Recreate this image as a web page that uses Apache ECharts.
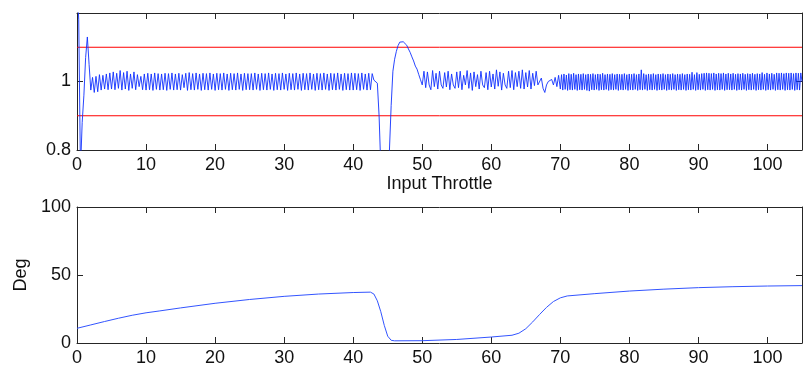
<!DOCTYPE html>
<html>
<head>
<meta charset="utf-8">
<script src="https://cdn.jsdelivr.net/npm/echarts@6/dist/echarts.min.js"></script>
<style>
html,body{margin:0;padding:0;background:#fff;}
#c{width:807px;height:375px;}
</style>
</head>
<body>
<div id="c"></div>
<script>
// ---- tick labels ----
const xTickLabels = ['0','10','20','30','40','50','60','70','80','90','100'];
const topYTickLabels = ['0.8','1'];
const bottomYTickLabels = ['0','50','100'];
const xAxisTitle = 'Input Throttle';
const bottomYAxisTitle = 'Deg';
const xMin = 0, xMax = 105;

// ---- reference limits (red lines) ----
const refLimits = [0.9, 1.1];

// ---- top panel, part A: ratio sampled every 0.25 throttle units, 0 .. 69.75 ----
const topStepA = 0.25;
const topRatioA = [
  1.30,1.18,0.74,0.88,0.96,1.07,1.13,1.05,0.975,1.012,0.968,1.015,0.97,1.02,0.975,1.018,0.978,1.022,0.976,1.025,
  0.978,1.028,0.976,1.024,0.98,1.032,0.975,1.026,0.978,1.03,0.974,1.022,0.98,1.028,0.976,1.02,0.985,1.015,0.976,1.022,
  0.975,1.024,0.976,1.022,0.974,1.025,0.977,1.023,0.975,1.022,0.976,1.024,0.974,1.023,0.977,1.025,0.975,1.022,0.976,1.024,
  0.975,1.02,0.982,1.024,0.974,1.026,0.976,1.023,0.975,1.025,0.977,1.022,0.974,1.024,0.976,1.023,0.975,1.025,0.977,1.022,
  0.974,1.024,0.976,1.023,0.975,1.025,0.977,1.022,0.974,1.024,0.976,1.023,0.975,1.025,0.977,1.022,0.974,1.024,0.976,1.023,
  0.976,1.023,0.975,1.025,0.977,1.022,0.974,1.024,0.976,1.023,0.975,1.025,0.977,1.022,0.974,1.024,0.976,1.023,0.975,1.025,
  0.977,1.022,0.974,1.024,0.976,1.023,0.975,1.025,0.977,1.022,0.974,1.024,0.976,1.023,0.975,1.025,0.977,1.022,0.974,1.024,
  0.976,1.023,0.975,1.025,0.977,1.022,0.974,1.024,0.976,1.023,0.975,1.025,0.977,1.022,0.974,1.024,0.976,1.023,0.975,1.025,
  0.975,1.024,0.976,1.023,0.974,1.025,0.977,1.022,0.975,1.024,0.976,1.023,1.004,1.008,0.995,0.9,0.75,0.6,0.52,0.58,
  0.7,0.8,0.93,1.03,1.065,1.088,1.105,1.115,1.119,1.116,1.117,1.106,1.095,1.085,1.072,1.06,1.045,1.036,1.02,1.005,
  0.99,1.03,0.982,1.028,0.99,0.976,1.032,0.985,1.024,0.978,1.03,0.99,0.98,1.026,0.984,1.03,0.976,1.022,0.99,0.98,
  1.028,0.982,1.03,0.976,1.018,0.99,1.032,0.98,1.025,0.974,1.028,0.985,1.02,0.978,1.03,0.99,0.982,1.026,0.976,1.03,
  0.984,1.022,0.978,1.034,0.986,1.028,0.975,1.024,0.99,0.98,1.03,0.982,1.032,0.976,1.026,0.985,1.03,0.98,1.034,0.978,
  1.026,0.984,1.032,0.978,1.024,0.988,1.03,0.99,0.985,1.01,0.98,0.968,0.99,1.0,0.995,1.006,0.99,1.012,0.985,1.018
];

// ---- top panel, part B: ratio sampled every 0.175 throttle units, 70 .. 105 ----
const topStartB = 70;
const topStepB = 0.175;
const topRatioB = [
  0.978,1.02,0.975,1.022,0.977,1.019,0.974,1.023,0.976,1.021,0.975,1.024,0.977,1.02,0.974,1.022,0.976,1.021,0.975,1.023,
  0.977,1.02,0.974,1.022,0.972,1.021,0.976,1.023,0.975,1.02,0.977,1.022,0.974,1.021,0.976,1.024,0.975,1.02,0.977,1.022,
  0.974,1.021,0.976,1.023,0.975,1.02,0.977,1.022,0.974,1.021,0.976,1.021,0.975,1.023,0.977,1.02,0.974,1.022,0.976,1.021,
  0.975,1.023,0.977,1.02,0.974,1.022,0.976,1.034,0.975,1.023,0.977,1.02,0.974,1.022,0.976,1.021,0.975,1.023,0.977,1.02,
  0.974,1.022,0.976,1.021,0.975,1.023,0.977,1.02,0.974,1.022,0.976,1.021,0.975,1.023,0.977,1.02,0.974,1.022,0.976,1.021,
  0.975,1.023,0.977,1.02,0.974,1.022,0.976,1.021,0.975,1.027,0.977,1.02,0.974,1.026,0.976,1.021,0.975,1.023,0.977,1.024,
  0.974,1.025,0.976,1.024,0.975,1.023,0.977,1.025,0.974,1.022,0.976,1.024,0.975,1.023,0.977,1.025,0.974,1.022,0.976,1.024,
  0.976,1.022,0.975,1.024,0.977,1.021,0.974,1.023,0.976,1.022,0.975,1.024,0.977,1.021,0.974,1.023,0.976,1.022,0.975,1.024,
  0.977,1.021,0.974,1.023,0.976,1.022,0.975,1.026,0.977,1.021,0.974,1.025,0.976,1.022,0.975,1.024,0.977,1.021,0.974,1.025,
  0.976,1.024,0.975,1.025,0.977,1.023,0.974,1.025,0.976,1.024,0.975,1.025,0.977,1.023,0.974,1.025,0.976,1.024,0.975,1.025,
  1.0
];

// ---- bottom panel: angle (Deg) vs throttle ----
const angleX   = [0,2,4,6,8,10,12,15,20,25,30,35,40,42.5,43,43.5,44,44.5,45,45.5,46,50,55,60,63,64,65,66,67,68,69,70,71,75,80,85,90,95,100,105];
const angleDeg = [10.8,13.3,15.8,18.2,20.4,22.2,23.6,25.8,29.2,32.0,34.3,36.0,37.1,37.4,36.0,31,23,13,5,2,1.6,1.7,2.6,4.4,5.7,7.2,10.5,15.5,21.0,26.2,30.5,33.2,34.6,36.3,38.2,39.6,40.7,41.4,41.9,42.2];

const FONT = '"Liberation Sans", Arial, sans-serif';
const AX = '#262626';
const RED = '#ff0000';
const BLUE = '#1030ff';

function xAxes(gridIndex, withName) {
  return [
    {
      type: 'value', gridIndex, position: 'bottom', min: xMin, max: xMax, interval: 10,
      axisLine: { show: true, onZero: false, lineStyle: { color: AX, width: 1 } },
      axisTick: { show: true, inside: true, length: 6, lineStyle: { color: AX } },
      splitLine: { show: false },
      axisLabel: {
        show: true, margin: 6, color: '#111', fontSize: 18, fontFamily: FONT,
        showMaxLabel: false,
        formatter: v => { const s = String(Math.round(v)); return xTickLabels.includes(s) && Math.abs(v - Math.round(v)) < 1e-6 ? s : ''; }
      },
      name: withName ? xAxisTitle : '', nameLocation: 'middle', nameGap: 24,
      nameTextStyle: { color: '#111', fontSize: 18, fontFamily: FONT }
    },
    {
      type: 'value', gridIndex, position: 'top', min: xMin, max: xMax, interval: 10,
      axisLine: { show: true, onZero: false, lineStyle: { color: AX, width: 1 } },
      axisTick: { show: true, inside: true, length: 6, lineStyle: { color: AX } },
      splitLine: { show: false }, axisLabel: { show: false }
    }
  ];
}

function yAxes(gridIndex, min, max, interval, labels, name) {
  const fmt = v => {
    const r = Math.round(v * 1000) / 1000;
    const s = String(r);
    return labels.includes(s) ? s : '';
  };
  return [
    {
      type: 'value', gridIndex, position: 'left', min, max, interval,
      axisLine: { show: true, onZero: false, lineStyle: { color: AX, width: 1 } },
      axisTick: { show: true, inside: true, length: 6, lineStyle: { color: AX } },
      splitLine: { show: false },
      axisLabel: { show: true, margin: 6, color: '#111', fontSize: 18, fontFamily: FONT, formatter: fmt },
      name: name || '', nameLocation: 'middle', nameGap: 46, nameRotate: 90,
      nameTextStyle: { color: '#111', fontSize: 18, fontFamily: FONT }
    },
    {
      type: 'value', gridIndex, position: 'right', min, max, interval,
      axisLine: { show: true, onZero: false, lineStyle: { color: AX, width: 1 } },
      axisTick: { show: true, inside: true, length: 6, lineStyle: { color: AX } },
      splitLine: { show: false }, axisLabel: { show: false }
    }
  ];
}

const topData = topRatioA.map((v, i) => [i * topStepA, v])
  .concat(topRatioB.map((v, i) => [topStartB + i * topStepB, v]));

const limitSeries = refLimits.map(v => ({
  type: 'line', xAxisIndex: 0, yAxisIndex: 0, showSymbol: false, silent: true,
  color: RED, itemStyle: { color: RED },
  lineStyle: { color: RED, width: 1 },
  emphasis: { disabled: true },
  data: [[xMin, v], [xMax, v]],
  z: 1
}));

const chart = echarts.init(document.getElementById('c'), null, { renderer: 'canvas' });
chart.setOption({
  animation: false,
  backgroundColor: '#fff',
  grid: [
    { left: 77, right: 5, top: 13, height: 137 },
    { left: 77, right: 5, top: 207, height: 136 }
  ],
  xAxis: [...xAxes(0, true), ...xAxes(1, false)],
  yAxis: [
    ...yAxes(0, 0.8, 1.2, 0.2, topYTickLabels, ''),
    ...yAxes(1, 0, 100, 50, bottomYTickLabels, bottomYAxisTitle)
  ],
  series: [
    ...limitSeries,
    {
      type: 'line', xAxisIndex: 0, yAxisIndex: 0, showSymbol: false, clip: true,
      color: BLUE,
      lineStyle: { color: BLUE, width: 0.9 },
      data: topData,
      z: 3
    },
    {
      type: 'line', xAxisIndex: 2, yAxisIndex: 2, showSymbol: false, clip: true,
      smooth: false,
      color: '#3355ff',
      lineStyle: { color: '#3355ff', width: 1 },
      data: angleX.map((x, i) => [x, angleDeg[i]])
    }
  ]
});
</script>
</body>
</html>
